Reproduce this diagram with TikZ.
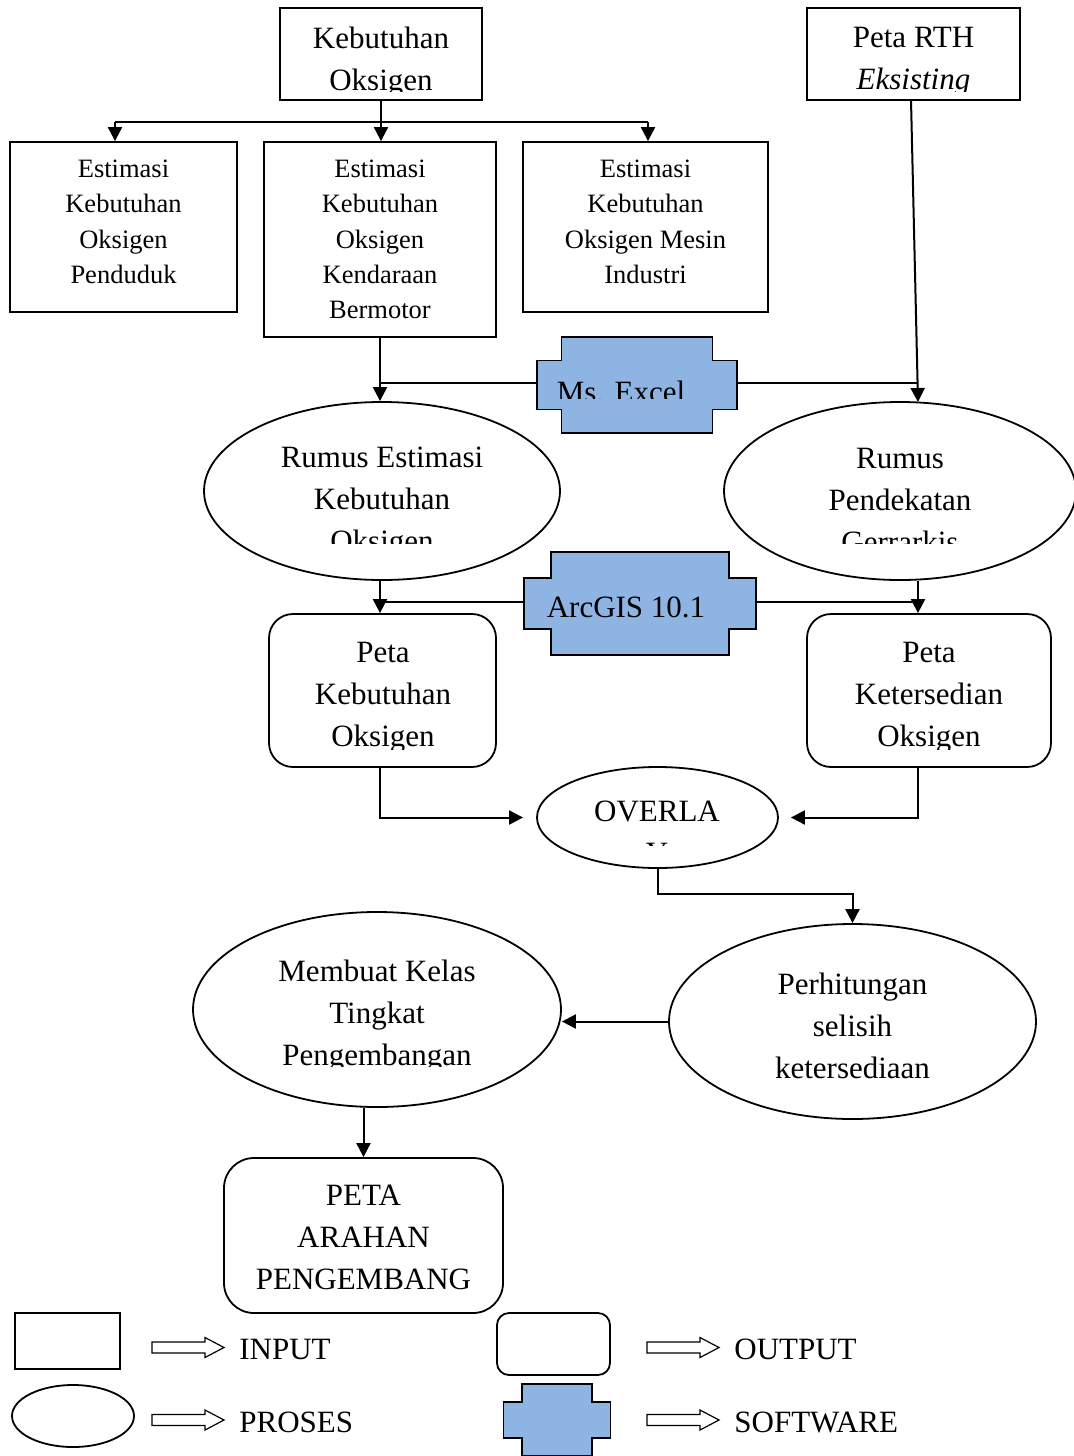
\documentclass[tikz,border=0pt]{standalone}
\usepackage{fontspec}
\setmainfont{Liberation Serif}
\usetikzlibrary{arrows.meta,shapes.geometric}
\definecolor{swblue}{RGB}{142,180,227}
\newcommand{\bigtxt}{\fontsize{15.5pt}{21pt}\selectfont}
\newcommand{\smalltxt}{\fontsize{13.25pt}{17.65pt}\selectfont}
\newcommand{\softblock}[6]{%
  \filldraw[swbox] (#1-#3,#2-#6) -- (#1-#4,#2-#6) -- (#1-#4,#2-#5) -- (#1+#4,#2-#5) -- (#1+#4,#2-#6) -- (#1+#3,#2-#6)
    -- (#1+#3,#2+#6) -- (#1+#4,#2+#6) -- (#1+#4,#2+#5) -- (#1-#4,#2+#5) -- (#1-#4,#2+#6) -- (#1-#3,#2+#6) -- cycle;}
\newcommand{\hollowarr}[2]{%
  \draw[line width=0.6pt] (#1,#2-5.5) -- (#1+53,#2-5.5) -- (#1+53,#2-10) -- (#1+72,#2) -- (#1+53,#2+10) -- (#1+53,#2+5.5) -- (#1,#2+5.5) -- cycle;}
\tikzset{
  inbox/.style={draw, line width=0.9pt, inner sep=0pt},
  outbox/.style={draw, line width=0.9pt, rounded corners=12pt, inner sep=0pt},
  proc/.style={draw, ellipse, line width=0.9pt, inner sep=0pt},
  swbox/.style={draw, fill=swblue, line width=0.9pt},
  txt/.style={align=center, inner sep=0pt, font=\bigtxt},
  stxt/.style={align=center, inner sep=0pt, font=\smalltxt},
  link/.style={line width=1pt},
  arr/.style={line width=1pt, -{Triangle[length=7pt,width=7pt]}}
}
\begin{document}
\begin{tikzpicture}[x=0.5pt,y=-0.5pt]
\useasboundingbox (0,0) rectangle (1073,1456);

\node[inbox, minimum width=101pt, minimum height=46pt] (keb) at (381,54) {};
\node[inbox, minimum width=106.5pt, minimum height=46pt] (rth) at (913.5,54) {};
\begin{scope}
\clip (280,8) rectangle (482,91);
\node[txt] (kebTxt) at (381,62) {Kebutuhan\\Oksigen};
\end{scope}
\begin{scope}
\clip (807,8) rectangle (1020,91);
\node[txt] (rthTxt) at (913.5,62) {Peta RTH\\\textit{Eksisting}};
\end{scope}

\node[inbox, minimum width=113.5pt, minimum height=85pt] (estA) at (123.5,227) {};
\node[inbox, stxt, minimum width=116pt, minimum height=97.5pt] (estB) at (380,239.5) {Estimasi\\Kebutuhan\\Oksigen\\Kendaraan\\Bermotor};
\node[inbox, minimum width=122.5pt, minimum height=85pt] (estC) at (645.5,227) {};
\node[stxt] (estATxt) at (123.5,222) {Estimasi\\Kebutuhan\\Oksigen\\Penduduk};
\node[stxt] (estCTxt) at (645.5,222) {Estimasi\\Kebutuhan\\Oksigen Mesin\\Industri};

\coordinate (jl) at (115,122);
\coordinate (jr) at (648,122);
\draw[link] (jl) -- (jr);
\draw[arr] (jl) -- (jl |- estA.north);
\draw[arr] (keb.south) -- (keb.south |- estB.north);
\draw[arr] (jr) -- (jr |- estC.north);

\node[proc, minimum width=178pt, minimum height=89pt] (rumusA) at (382,491) {};
\node[proc, minimum width=176pt, minimum height=89pt] (rumusB) at (900,491) {};
\begin{scope}
\clip (204,402) rectangle (560,543);
\node[txt] (rumusATxt) at (382,503) {Rumus Estimasi\\Kebutuhan\\Oksigen};
\end{scope}
\begin{scope}
\clip (724,402) rectangle (1073,543);
\node[txt] (rumusBTxt) at (900,500) {Rumus\\Pendekatan\\Gerrarkis};
\end{scope}

\coordinate (xlrow) at (0,383);
\coordinate (rthout) at (911,100);
\coordinate (rthin) at (918,402);
\draw[arr] (estB.south) -- (estB.south |- rumusA.north);
\draw[arr] (rthout) -- (rthin);
\draw[link] (estB.south |- xlrow) -- (rthin |- xlrow);
\softblock{637}{385}{100}{75.5}{48}{24.5}
\begin{scope}
\clip (537,337) rectangle (737,398);
\node[txt] (excel) at (621,392) {Ms. Excel};
\end{scope}

\node[outbox, minimum width=113.5pt, minimum height=76.5pt] (petaA) at (382.5,690.5) {};
\node[outbox, minimum width=122pt, minimum height=76.5pt] (petaB) at (929,690.5) {};
\begin{scope}
\clip (269,614) rectangle (496,749);
\node[txt] (petaATxt) at (383,698) {Peta\\Kebutuhan\\Oksigen};
\end{scope}
\begin{scope}
\clip (807,614) rectangle (1051,749);
\node[txt] (petaBTxt) at (929,698) {Peta\\Ketersedian\\Oksigen};
\end{scope}

\coordinate (gisrow) at (0,602);
\draw[arr] (estB.south |- rumusA.south) -- (estB.south |- petaA.north);
\draw[arr] (rthin |- rumusB.south) -- (rthin |- petaB.north);
\draw[link] (estB.south |- gisrow) -- (rthin |- gisrow);
\softblock{640}{603.5}{116}{89}{51.5}{25.5}
\node[txt] (arcgis) at (626,607.5) {ArcGIS 10.1};

\node[proc, minimum width=120.5pt, minimum height=50.5pt] (overlay) at (657.5,817.5) {};
\begin{scope}
\clip (537,767) rectangle (778,845);
\node[txt] (overTxt) at (657,832) {OVERLA\\Y};
\end{scope}
\draw[arr, shorten >=6.5pt] (estB.south |- petaA.south) |- (overlay.west);
\draw[arr, shorten >=6pt] (rthin |- petaB.south) |- (overlay.east);

\node[proc, minimum width=183.5pt, minimum height=97.5pt] (hitung) at (852.5,1021.5) {};
\node[txt] (hitungTxt) at (852.5,1025.5) {Perhitungan\\selisih\\ketersediaan};
\node[proc, minimum width=184pt, minimum height=97.5pt] (kelas) at (377,1009.5) {};
\begin{scope}
\clip (193,912) rectangle (561,1066);
\node[txt] (kelasTxt) at (377,1016) {Membuat Kelas\\Tingkat\\Pengembangan};
\end{scope}
\draw[arr] (overlay.south) -- ++(0,25) -| (hitung.north);
\draw[arr] (hitung.west) -- (hitung.west -| kelas.east);

\node[outbox, rounded corners=15pt, minimum width=139.5pt, minimum height=77.5pt] (arahan) at (363.5,1235.5) {};
\node[txt] (arahanTxt) at (363.5,1237.5) {PETA\\ARAHAN\\PENGEMBANG};
\draw[arr] (arahan.north |- kelas.south) -- (arahan.north);

\node[inbox, minimum width=52.5pt, minimum height=28pt] (legIn) at (67.5,1341) {};
\node[proc, minimum width=61pt, minimum height=31pt] (legProc) at (73,1416) {};
\node[outbox, rounded corners=6pt, minimum width=56.5pt, minimum height=31pt] (legOut) at (553.5,1344) {};
\softblock{557}{1420}{53.5}{35}{36}{18}
\hollowarr{152}{1347.5}
\hollowarr{152}{1420}
\hollowarr{647}{1347.5}
\hollowarr{647}{1420}
\node[txt, anchor=west] (lblIn) at (239,1349) {INPUT};
\node[txt, anchor=west] (lblProc) at (239,1422) {PROSES};
\node[txt, anchor=west] (lblOut) at (734,1349) {OUTPUT};
\node[txt, anchor=west] (lblSw) at (734,1422) {SOFTWARE};
\end{tikzpicture}
\end{document}
